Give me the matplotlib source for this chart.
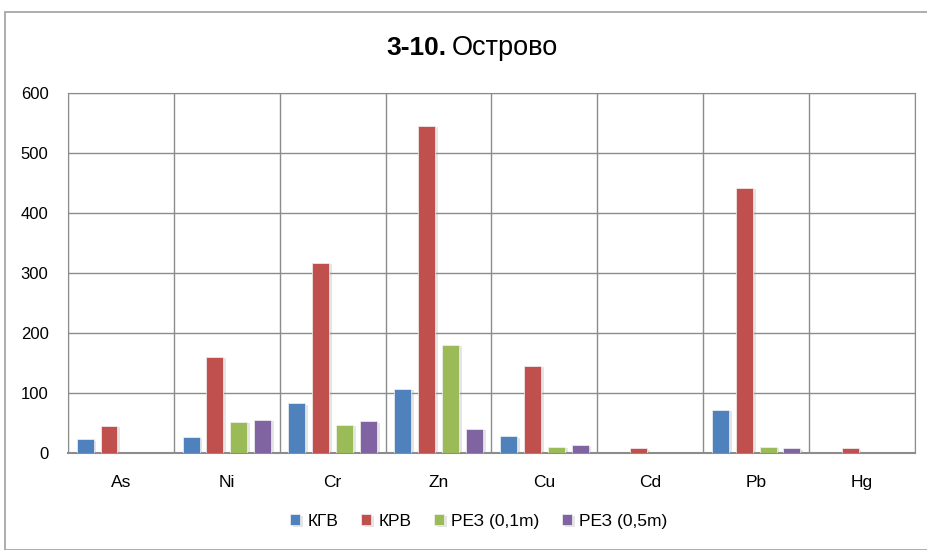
import numpy as np
import matplotlib.pyplot as plt
from matplotlib.patches import Rectangle
import matplotlib.patheffects as pe

plt.rcParams['font.family'] = ['Liberation Sans Narrow', 'Liberation Sans', 'DejaVu Sans']

elements = ["As", "Ni", "Cr", "Zn", "Cu", "Cd", "Pb", "Hg"]
kgv = [23, 27, 83, 107, 28, 0, 72, 0]
krv = [45, 160, 317, 545, 145, 8, 442, 8]
rez_01 = [0, 52, 47, 180, 10, 0, 10, 0]
rez_05 = [0, 55, 53, 40, 13, 0, 8, 0]

series = [
    ("КГВ", kgv, "#4f81bd"),
    ("КРВ", krv, "#c0504d"),
    ("РЕЗ (0,1m)", rez_01, "#9bbb59"),
    ("РЕЗ (0,5m)", rez_05, "#8064a2"),
]

fig = plt.figure(figsize=(9.27, 5.5), dpi=100)
# outer chart frame
fig.patches.append(Rectangle((5 / 927, 0), 1, 1 - 12 / 550, transform=fig.transFigure,
                             fill=False, edgecolor="#a0a0a0", linewidth=1.2))

ax = fig.add_axes([68 / 927, 97 / 550, 847 / 927, 360 / 550])

x = np.arange(len(elements))
width = 0.16
step = 0.225
shadow = [pe.SimplePatchShadow(offset=(2, -1), shadow_rgbFace="#999999", alpha=0.25), pe.Normal()]
for i, (name, vals, color) in enumerate(series):
    bars = ax.bar(x + (i - 1.5) * step, vals, width, color=color, label=name,
                  edgecolor="#f2f2f2", linewidth=0.5, zorder=3)
    for b in bars:
        b.set_path_effects(shadow)

ax.set_xlim(-0.5, len(elements) - 0.5)
ax.set_ylim(0, 600)
ax.set_yticks(range(0, 601, 100))
ax.set_xticks(x)
ax.set_xticklabels(elements)
ax.set_xticks(np.arange(-0.5, len(elements)), minor=True)
ax.grid(True, which="major", axis="y", color="#8c8c8c", linewidth=1)
ax.grid(True, which="minor", axis="x", color="#8c8c8c", linewidth=1)
ax.set_axisbelow(True)
ax.tick_params(which="both", length=0)
ax.tick_params(axis="x", pad=16, labelsize=12.5)
ax.tick_params(axis="y", pad=14, labelsize=12)
for s in ax.spines.values():
    s.set_color("#8c8c8c")
ax.spines["bottom"].set_linewidth(1.5)

fig.text(446 / 927, 1 - 48 / 550, "3-10.", fontsize=19, fontweight="bold",
         ha="right", va="center")
fig.text(452 / 927, 1 - 48 / 550, "Острово", fontsize=19.5, ha="left", va="center")

ax.legend(loc="center", bbox_to_anchor=(0.485, -0.19), ncol=4, frameon=False,
          fontsize=12.5, handlelength=0.6, handleheight=0.6, handletextpad=0.4,
          columnspacing=1.3)

fig.savefig("out.png", dpi=100)
